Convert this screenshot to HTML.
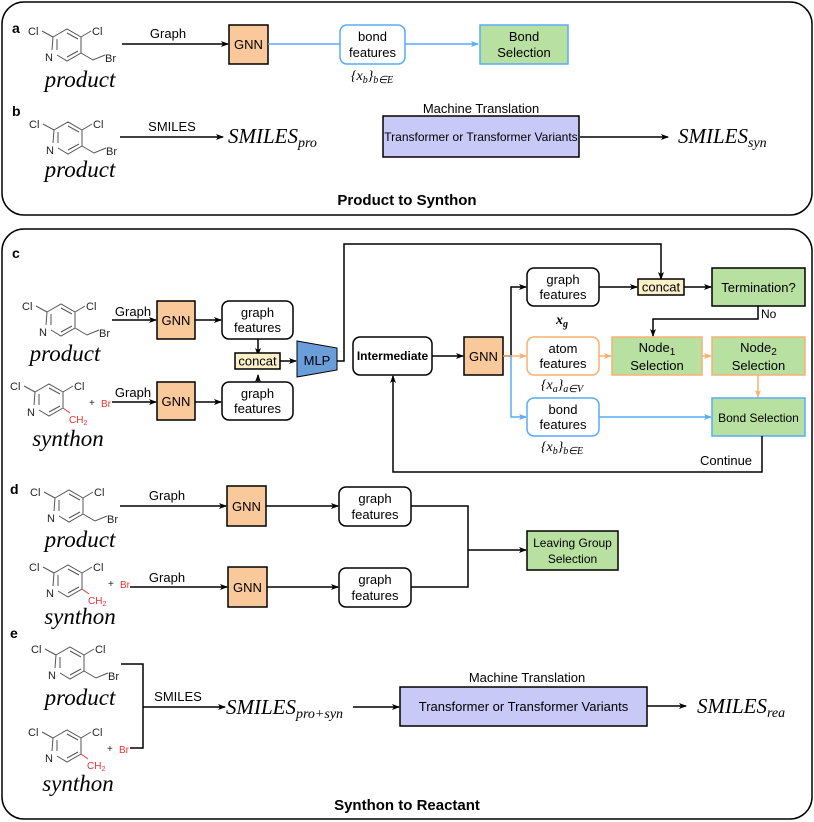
<!DOCTYPE html>
<html><head><meta charset="utf-8"><style>
html,body{margin:0;padding:0;background:#fff;}
svg{display:block;}
text{font-family:"Liberation Sans",sans-serif;}
.s{font-family:"Liberation Serif",serif;font-style:italic;}
</style></head><body>
<svg width="814" height="822" viewBox="0 0 814 822" xmlns="http://www.w3.org/2000/svg">
<defs>
<marker id="ak" markerWidth="8" markerHeight="8" refX="7" refY="4" orient="auto" markerUnits="userSpaceOnUse"><path d="M0,1 L8,4 L0,7 L2,4 z" fill="#000"/></marker>
<marker id="ab" markerWidth="8" markerHeight="8" refX="7" refY="4" orient="auto" markerUnits="userSpaceOnUse"><path d="M0,1 L8,4 L0,7 L2,4 z" fill="#5aaaf5"/></marker>
<marker id="ao" markerWidth="8" markerHeight="8" refX="7" refY="4" orient="auto" markerUnits="userSpaceOnUse"><path d="M0,1 L8,4 L0,7 L2,4 z" fill="#f8b070"/></marker>
<g id="ring" stroke="#555" stroke-width="1" fill="none">
<path d="M53,37 L67,29 L81,37 L81,53 L67,61 L57,55 M52,50 L53,37 M57,39 L57,50 M67,33 L78,39 M78,51 L67,57"/>
<line x1="53" y1="37" x2="42" y2="31"/>
<line x1="81" y1="37" x2="91" y2="31"/>
</g>
<g id="prod">
<use href="#ring"/>
<path d="M81,53 L93,60 L105,55" stroke="#555" stroke-width="1" fill="none"/>
<text x="28" y="35" font-size="11" fill="#222">Cl</text>
<text x="92" y="35" font-size="11" fill="#222">Cl</text>
<text x="45" y="61" font-size="11" fill="#222">N</text>
<text x="105" y="62" font-size="11" fill="#222">Br</text>
</g>
<g id="syn">
<use href="#ring"/>
<path d="M81,53 L88,58" stroke="#e33" stroke-width="1" fill="none"/>
<text x="28" y="35" font-size="11" fill="#222">Cl</text>
<text x="92" y="35" font-size="11" fill="#222">Cl</text>
<text x="45" y="61" font-size="11" fill="#222">N</text>
<text x="87" y="68" font-size="10" fill="#e33">CH<tspan font-size="7" dy="2">2</tspan></text>
<text x="107" y="51" font-size="10" fill="#222">+</text>
<text x="119" y="52" font-size="10" fill="#e33">Br</text>
</g>
</defs>

<rect x="2" y="2" width="810" height="213" rx="22" fill="none" stroke="#000" stroke-width="1.5"/>
<rect x="2" y="229" width="810" height="590" rx="22" fill="none" stroke="#000" stroke-width="1.5"/>

<!-- a -->
<text x="12" y="33" font-size="14" font-weight="bold">a</text>
<use href="#prod" x="0" y="0"/>
<text x="80" y="87" class="s" font-size="23" text-anchor="middle">product</text>
<line x1="122" y1="44" x2="228" y2="44" stroke="#000" stroke-width="1.5" marker-end="url(#ak)"/>
<text x="168" y="38" font-size="13" text-anchor="middle">Graph</text>
<rect x="229" y="25" width="39" height="39" fill="#f9c89b" stroke="#000" stroke-width="1.5"/>
<text x="248.5" y="49" font-size="13" text-anchor="middle">GNN</text>
<line x1="268" y1="44" x2="340" y2="44" stroke="#5aaaf5" stroke-width="1.5"/>
<rect x="340" y="25" width="65" height="39" rx="7" fill="#fff" stroke="#5aaaf5" stroke-width="1.5"/>
<text x="372.5" y="41" font-size="13" text-anchor="middle">bond</text>
<text x="372.5" y="57" font-size="13" text-anchor="middle">features</text>
<text x="372" y="80" class="s" font-size="14" text-anchor="middle">{x<tspan font-size="10" dy="3">b</tspan><tspan dy="-3">}</tspan><tspan font-size="10" dy="3">b∈E</tspan></text>
<line x1="405" y1="44" x2="478" y2="44" stroke="#5aaaf5" stroke-width="1.5" marker-end="url(#ab)"/>
<rect x="480" y="25" width="88" height="39" fill="#b8e0a0" stroke="#5aaaf5" stroke-width="1.5"/>
<text x="524" y="41" font-size="13" text-anchor="middle">Bond</text>
<text x="524" y="57" font-size="13" text-anchor="middle">Selection</text>

<!-- b -->
<text x="12" y="116" font-size="14" font-weight="bold">b</text>
<use href="#prod" x="1" y="93"/>
<text x="80" y="177" class="s" font-size="23" text-anchor="middle">product</text>
<line x1="120" y1="137" x2="223" y2="137" stroke="#000" stroke-width="1.5" marker-end="url(#ak)"/>
<text x="172" y="131" font-size="13" text-anchor="middle">SMILES</text>
<text x="228" y="143" class="s" font-size="21">SMILES<tspan font-size="14" dy="4">pro</tspan></text>
<text x="481" y="113" font-size="13" text-anchor="middle">Machine Translation</text>
<rect x="383" y="116" width="196" height="41" fill="#c9c9f7" stroke="#000" stroke-width="1.5"/>
<text x="481" y="141" font-size="12" text-anchor="middle">Transformer or Transformer Variants</text>
<line x1="580" y1="137" x2="668" y2="137" stroke="#000" stroke-width="1.5" marker-end="url(#ak)"/>
<text x="678" y="143" class="s" font-size="21">SMILES<tspan font-size="14" dy="4">syn</tspan></text>
<text x="407" y="205" font-size="15" font-weight="bold" text-anchor="middle">Product to Synthon</text>

<!-- c -->
<text x="12" y="258" font-size="14" font-weight="bold">c</text>
<use href="#prod" x="-6" y="275"/>
<text x="65" y="361" class="s" font-size="23" text-anchor="middle">product</text>
<use href="#syn" x="-18" y="355"/>
<text x="68" y="446" class="s" font-size="23" text-anchor="middle">synthon</text>
<line x1="112" y1="320" x2="156" y2="320" stroke="#000" stroke-width="1.5" marker-end="url(#ak)"/>
<text x="133" y="316" font-size="13" text-anchor="middle">Graph</text>
<rect x="157" y="301" width="38" height="38" fill="#f9c89b" stroke="#000" stroke-width="1.5"/>
<text x="176" y="325" font-size="13" text-anchor="middle">GNN</text>
<line x1="195" y1="320" x2="221" y2="320" stroke="#000" stroke-width="1.5" marker-end="url(#ak)"/>
<rect x="222" y="301" width="71" height="38" rx="7" fill="#fff" stroke="#000" stroke-width="1.5"/>
<text x="257.5" y="317" font-size="13" text-anchor="middle">graph</text>
<text x="257.5" y="332" font-size="13" text-anchor="middle">features</text>
<line x1="112" y1="402" x2="156" y2="402" stroke="#000" stroke-width="1.5" marker-end="url(#ak)"/>
<text x="133" y="397" font-size="13" text-anchor="middle">Graph</text>
<rect x="157" y="382" width="38" height="38" fill="#f9c89b" stroke="#000" stroke-width="1.5"/>
<text x="176" y="406" font-size="13" text-anchor="middle">GNN</text>
<line x1="195" y1="402" x2="221" y2="402" stroke="#000" stroke-width="1.5" marker-end="url(#ak)"/>
<rect x="222" y="382" width="71" height="38" rx="7" fill="#fff" stroke="#000" stroke-width="1.5"/>
<text x="257.5" y="398" font-size="13" text-anchor="middle">graph</text>
<text x="257.5" y="413" font-size="13" text-anchor="middle">features</text>
<line x1="258" y1="339" x2="258" y2="355" stroke="#000" stroke-width="1.5" marker-end="url(#ak)"/>
<line x1="258" y1="382" x2="258" y2="375" stroke="#000" stroke-width="1.5" marker-end="url(#ak)"/>
<rect x="235" y="353" width="45" height="16" fill="#fdf0c8" stroke="#000" stroke-width="1.5"/>
<text x="257.5" y="365.5" font-size="13" text-anchor="middle">concat</text>
<line x1="280" y1="361" x2="296" y2="361" stroke="#000" stroke-width="1.5" marker-end="url(#ak)"/>
<path d="M297,341 L337,348 L337,370 L297,377 z" fill="#6a9ed8" stroke="#000" stroke-width="1"/>
<text x="317" y="365" font-size="13" text-anchor="middle">MLP</text>
<path d="M337,361 L344,361 L344,244 L661,244 L661,279" fill="none" stroke="#000" stroke-width="1.5" marker-end="url(#ak)"/>
<rect x="353" y="337" width="79" height="38" rx="7" fill="#fff" stroke="#000" stroke-width="1.5"/>
<text x="392.5" y="360" font-size="12" font-weight="bold" text-anchor="middle">Intermediate</text>
<line x1="432" y1="356" x2="463" y2="356" stroke="#000" stroke-width="1.5" marker-end="url(#ak)"/>
<rect x="464" y="337" width="39" height="38" fill="#f9c89b" stroke="#000" stroke-width="1.5"/>
<text x="483.5" y="361" font-size="13" text-anchor="middle">GNN</text>
<path d="M503,356 L511,356 L511,287 L526,287" fill="none" stroke="#000" stroke-width="1.5" marker-end="url(#ak)"/>
<line x1="503" y1="356" x2="526" y2="356" stroke="#f8b070" stroke-width="1.5" marker-end="url(#ao)"/>
<path d="M511,356 L511,417 L526,417" fill="none" stroke="#5aaaf5" stroke-width="1.5" marker-end="url(#ab)"/>
<rect x="527" y="268" width="72" height="38" rx="7" fill="#fff" stroke="#000" stroke-width="1.5"/>
<text x="563" y="284" font-size="13" text-anchor="middle">graph</text>
<text x="563" y="299" font-size="13" text-anchor="middle">features</text>
<text x="562" y="324" class="s" font-size="14" font-weight="bold" text-anchor="middle">x<tspan font-size="10" dy="3">g</tspan></text>
<rect x="527" y="337" width="72" height="38" rx="7" fill="#fff" stroke="#f8b070" stroke-width="1.5"/>
<text x="563" y="353" font-size="13" text-anchor="middle">atom</text>
<text x="563" y="368" font-size="13" text-anchor="middle">features</text>
<text x="562" y="389" class="s" font-size="14" text-anchor="middle">{x<tspan font-size="10" dy="3">a</tspan><tspan dy="-3">}</tspan><tspan font-size="10" dy="3">a∈V</tspan></text>
<rect x="527" y="398" width="72" height="38" rx="7" fill="#fff" stroke="#5aaaf5" stroke-width="1.5"/>
<text x="563" y="414" font-size="13" text-anchor="middle">bond</text>
<text x="563" y="429" font-size="13" text-anchor="middle">features</text>
<text x="562" y="451" class="s" font-size="14" text-anchor="middle">{x<tspan font-size="10" dy="3">b</tspan><tspan dy="-3">}</tspan><tspan font-size="10" dy="3">b∈E</tspan></text>
<line x1="599" y1="287" x2="637" y2="287" stroke="#000" stroke-width="1.5" marker-end="url(#ak)"/>
<rect x="638" y="279" width="46" height="16" fill="#fdf0c8" stroke="#000" stroke-width="1.5"/>
<text x="661" y="291.5" font-size="13" text-anchor="middle">concat</text>
<line x1="684" y1="287" x2="711" y2="287" stroke="#000" stroke-width="1.5" marker-end="url(#ak)"/>
<rect x="712" y="268" width="93" height="38" fill="#b8e0a0" stroke="#000" stroke-width="1.5"/>
<text x="758.5" y="292" font-size="13" text-anchor="middle">Termination?</text>
<path d="M758,306 L758,319 L653,319 L653,336" fill="none" stroke="#000" stroke-width="1.5" marker-end="url(#ak)"/>
<text x="761" y="318" font-size="12">No</text>
<line x1="599" y1="356" x2="611" y2="356" stroke="#f8b070" stroke-width="1.5" marker-end="url(#ao)"/>
<rect x="612" y="337" width="90" height="38" fill="#b8e0a0" stroke="#f8b070" stroke-width="1.5"/>
<text x="657" y="352" font-size="13" text-anchor="middle">Node<tspan font-size="10" dy="3">1</tspan></text>
<text x="657" y="370" font-size="13" text-anchor="middle">Selection</text>
<line x1="702" y1="356" x2="711" y2="356" stroke="#f8b070" stroke-width="1.5" marker-end="url(#ao)"/>
<rect x="712" y="337" width="93" height="38" fill="#b8e0a0" stroke="#f8b070" stroke-width="1.5"/>
<text x="758.5" y="352" font-size="13" text-anchor="middle">Node<tspan font-size="10" dy="3">2</tspan></text>
<text x="758.5" y="370" font-size="13" text-anchor="middle">Selection</text>
<line x1="758" y1="375" x2="758" y2="397" stroke="#f8b070" stroke-width="1.5" marker-end="url(#ao)"/>
<line x1="599" y1="417" x2="711" y2="417" stroke="#5aaaf5" stroke-width="1.5" marker-end="url(#ab)"/>
<rect x="712" y="398" width="93" height="38" fill="#b8e0a0" stroke="#5aaaf5" stroke-width="1.5"/>
<text x="758.5" y="422" font-size="12" text-anchor="middle">Bond Selection</text>
<path d="M762,436 L762,472 L393,472 L393,376" fill="none" stroke="#000" stroke-width="1.5" marker-end="url(#ak)"/>
<text x="700" y="465" font-size="13">Continue</text>

<!-- d -->
<text x="10" y="494" font-size="14" font-weight="bold">d</text>
<use href="#prod" x="2" y="461"/>
<text x="80" y="547" class="s" font-size="23" text-anchor="middle">product</text>
<use href="#syn" x="1" y="536"/>
<text x="80" y="624" class="s" font-size="23" text-anchor="middle">synthon</text>
<line x1="120" y1="506" x2="226" y2="506" stroke="#000" stroke-width="1.5" marker-end="url(#ak)"/>
<text x="167" y="500" font-size="13" text-anchor="middle">Graph</text>
<rect x="227" y="486" width="39" height="40" fill="#f9c89b" stroke="#000" stroke-width="1.5"/>
<text x="246.5" y="511" font-size="13" text-anchor="middle">GNN</text>
<line x1="266" y1="506" x2="338" y2="506" stroke="#000" stroke-width="1.5" marker-end="url(#ak)"/>
<rect x="339" y="487" width="72" height="39" rx="7" fill="#fff" stroke="#000" stroke-width="1.5"/>
<text x="375" y="503" font-size="13" text-anchor="middle">graph</text>
<text x="375" y="519" font-size="13" text-anchor="middle">features</text>
<line x1="130" y1="587" x2="227" y2="587" stroke="#000" stroke-width="1.5" marker-end="url(#ak)"/>
<text x="167" y="582" font-size="13" text-anchor="middle">Graph</text>
<rect x="228" y="567" width="39" height="40" fill="#f9c89b" stroke="#000" stroke-width="1.5"/>
<text x="247.5" y="592" font-size="13" text-anchor="middle">GNN</text>
<line x1="267" y1="587" x2="338" y2="587" stroke="#000" stroke-width="1.5" marker-end="url(#ak)"/>
<rect x="339" y="568" width="72" height="39" rx="7" fill="#fff" stroke="#000" stroke-width="1.5"/>
<text x="375" y="584" font-size="13" text-anchor="middle">graph</text>
<text x="375" y="600" font-size="13" text-anchor="middle">features</text>
<path d="M411,506 L468,506 L468,587 L411,587 M468,550 L526,550" fill="none" stroke="#000" stroke-width="1.5" marker-end="url(#ak)"/>
<rect x="527" y="531" width="91" height="39" fill="#b8e0a0" stroke="#000" stroke-width="1.5"/>
<text x="572.5" y="547" font-size="12" text-anchor="middle">Leaving Group</text>
<text x="572.5" y="563" font-size="12" text-anchor="middle">Selection</text>

<!-- e -->
<text x="10" y="638" font-size="14" font-weight="bold">e</text>
<use href="#prod" x="3" y="618"/>
<text x="80" y="705" class="s" font-size="23" text-anchor="middle">product</text>
<use href="#syn" x="0" y="701"/>
<text x="78" y="791" class="s" font-size="23" text-anchor="middle">synthon</text>
<path d="M121,664 L143,664 L143,748 L130,748" fill="none" stroke="#000" stroke-width="1.5"/>
<line x1="143" y1="707" x2="225" y2="707" stroke="#000" stroke-width="1.5" marker-end="url(#ak)"/>
<text x="178" y="701" font-size="13" text-anchor="middle">SMILES</text>
<text x="226" y="714" class="s" font-size="21">SMILES<tspan font-size="14" dy="4">pro+syn</tspan></text>
<line x1="353" y1="707" x2="399" y2="707" stroke="#000" stroke-width="1.5" marker-end="url(#ak)"/>
<text x="527" y="682" font-size="13" text-anchor="middle">Machine Translation</text>
<rect x="400" y="687" width="247" height="39" fill="#c9c9f7" stroke="#000" stroke-width="1.5"/>
<text x="523.5" y="711" font-size="13" text-anchor="middle">Transformer or Transformer Variants</text>
<line x1="647" y1="706" x2="686" y2="706" stroke="#000" stroke-width="1.5" marker-end="url(#ak)"/>
<text x="697" y="713" class="s" font-size="21">SMILES<tspan font-size="14" dy="4">rea</tspan></text>
<text x="407" y="810" font-size="15" font-weight="bold" text-anchor="middle">Synthon to Reactant</text>
</svg>
</body></html>
